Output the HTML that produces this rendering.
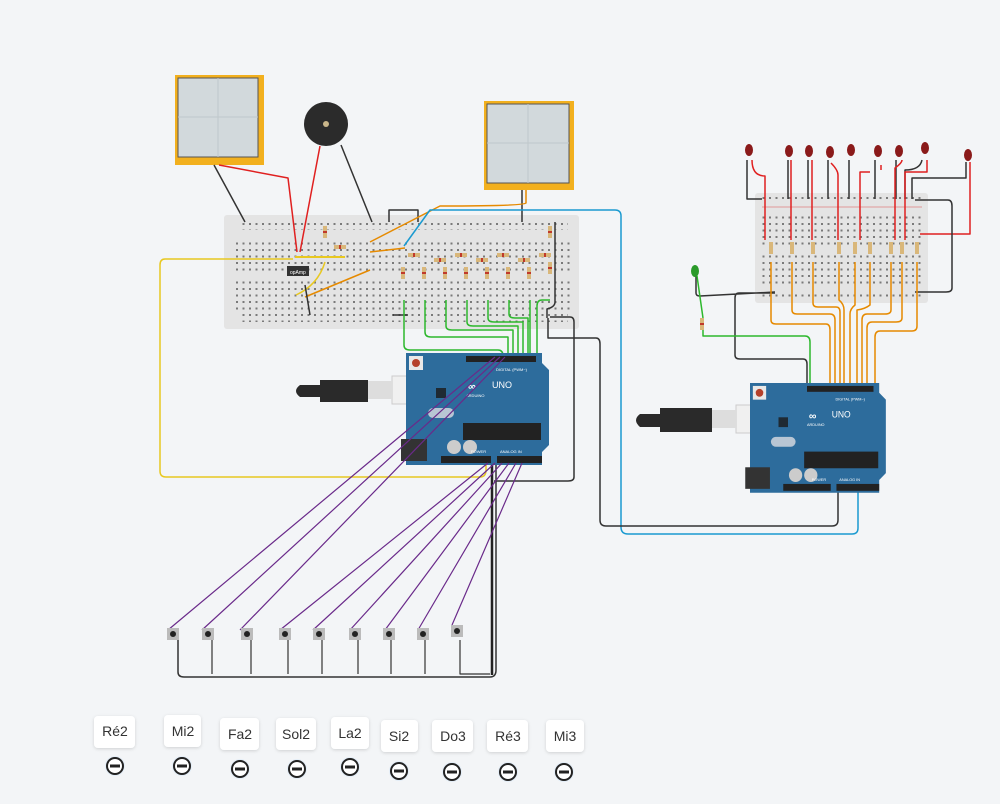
<!DOCTYPE html>
<html><head><meta charset="utf-8"><style>
html,body{margin:0;padding:0;background:#f3f5f7;}
svg{display:block;font-family:"Liberation Sans",sans-serif;}
</style></head><body>
<svg width="1000" height="804" viewBox="0 0 1000 804" xmlns="http://www.w3.org/2000/svg">
<defs>
<pattern id="holes" width="6.5" height="6.5" patternUnits="userSpaceOnUse"><rect x="2" y="2" width="2" height="2" fill="#7a7a7a"/></pattern>
<filter id="sh" x="-20%" y="-20%" width="140%" height="140%"><feDropShadow dx="0" dy="1" stdDeviation="1.5" flood-color="#000" flood-opacity="0.15"/></filter>
<g id="ard">
 <path d="M0 0 H136 V10 L143 17 V92 L136 99 V112 H0 Z" fill="#2d6c9c"/>
 <rect x="3" y="3" width="14" height="14" fill="#e8e8e8"/><circle cx="10" cy="10" r="4" fill="#b5402a"/>
 <rect x="60" y="3" width="70" height="6" fill="#222"/>
 <rect x="57" y="70" width="78" height="17" fill="#222"/>
 <rect x="35" y="103" width="50" height="7" fill="#222"/>
 <rect x="91" y="103" width="45" height="7" fill="#222"/>
 <rect x="-5" y="86" width="26" height="22" fill="#333"/>
 <ellipse cx="48" cy="94" rx="7" ry="7" fill="#ccc"/><ellipse cx="64" cy="94" rx="7" ry="7" fill="#ccc"/>
 <rect x="22" y="55" width="26" height="10" rx="5" fill="#b8c6d4"/>
 <rect x="30" y="35" width="10" height="10" fill="#1f2a33"/>
 <text x="62" y="37" font-size="11" fill="#fff" font-weight="bold">∞</text>
 <text x="86" y="35" font-size="9" fill="#fff">UNO</text>
 <text x="60" y="44" font-size="4" fill="#fff">ARDUINO</text>
 <text x="90" y="18" font-size="4" fill="#fff">DIGITAL (PWM~)</text>
 <text x="94" y="100" font-size="4" fill="#fff">ANALOG IN</text>
 <text x="65" y="100" font-size="4" fill="#fff">POWER</text>
</g>
</defs>

<!-- Oscilloscopes -->
<rect x="175" y="75" width="89" height="90" fill="#f2b01e"/>
<rect x="178" y="78" width="80" height="79" fill="#d2d9dc" stroke="#555" stroke-width="1"/>
<line x1="218" y1="78" x2="218" y2="157" stroke="#bfc7cb"/><line x1="178" y1="117" x2="258" y2="117" stroke="#bfc7cb"/>
<rect x="484" y="101" width="90" height="89" fill="#f2b01e"/>
<rect x="487" y="104" width="82" height="79" fill="#d2d9dc" stroke="#555" stroke-width="1"/>
<line x1="528" y1="104" x2="528" y2="183" stroke="#bfc7cb"/><line x1="487" y1="143" x2="569" y2="143" stroke="#bfc7cb"/>
<circle cx="326" cy="124" r="22" fill="#2b2b2b"/><circle cx="326" cy="124" r="3" fill="#c9b68a"/>

<!-- Breadboard 1 -->
<rect x="224" y="215" width="355" height="114" rx="3" fill="#e4e4e4"/>
<rect x="238" y="222" width="330" height="8" fill="url(#holes)"/>
<rect x="232" y="240" width="340" height="34" fill="url(#holes)"/>
<rect x="232" y="278" width="340" height="34" fill="url(#holes)"/>
<rect x="238" y="314" width="330" height="8" fill="url(#holes)"/>
<rect x="287" y="266" width="22" height="10" fill="#333"/><text x="290" y="274" font-size="5" fill="#fff">opAmp</text>
<!-- Breadboard 2 -->
<rect x="755" y="193" width="173" height="110" rx="3" fill="#e4e4e4"/>
<rect x="762" y="197" width="160" height="6" fill="url(#holes)"/>
<rect x="760" y="212" width="162" height="34" fill="url(#holes)"/>
<rect x="760" y="254" width="162" height="34" fill="url(#holes)"/>
<rect x="762" y="291" width="160" height="6" fill="url(#holes)"/>
<line x1="762" y1="207" x2="922" y2="207" stroke="#e08080" stroke-width="0.7"/>

<g fill="#d9b77a">
<rect x="323" y="226" width="4" height="12"/><rect x="334" y="245" width="12" height="4"/>
<rect x="548" y="226" width="4" height="12"/><rect x="548" y="262" width="4" height="12"/>
<rect x="408" y="253" width="12" height="4"/><rect x="434" y="258" width="12" height="4"/><rect x="455" y="253" width="12" height="4"/><rect x="476" y="258" width="12" height="4"/><rect x="497" y="253" width="12" height="4"/><rect x="518" y="258" width="12" height="4"/><rect x="539" y="253" width="12" height="4"/>
<rect x="401" y="267" width="4" height="12"/><rect x="422" y="267" width="4" height="12"/><rect x="443" y="267" width="4" height="12"/><rect x="464" y="267" width="4" height="12"/><rect x="485" y="267" width="4" height="12"/><rect x="506" y="267" width="4" height="12"/><rect x="527" y="267" width="4" height="12"/>
<rect x="769" y="242" width="4" height="12"/><rect x="790" y="242" width="4" height="12"/><rect x="811" y="242" width="4" height="12"/><rect x="837" y="242" width="4" height="12"/><rect x="853" y="242" width="4" height="12"/><rect x="868" y="242" width="4" height="12"/><rect x="889" y="242" width="4" height="12"/><rect x="900" y="242" width="4" height="12"/><rect x="915" y="242" width="4" height="12"/>
<rect x="700" y="318" width="4" height="12"/>
</g>
<g fill="#c0392b">
<rect x="323" y="231" width="4" height="2"/><rect x="339" y="245" width="2" height="4"/><rect x="548" y="231" width="4" height="2"/><rect x="548" y="267" width="4" height="2"/>
<rect x="413" y="253" width="2" height="4"/><rect x="439" y="258" width="2" height="4"/><rect x="460" y="253" width="2" height="4"/><rect x="481" y="258" width="2" height="4"/><rect x="502" y="253" width="2" height="4"/><rect x="523" y="258" width="2" height="4"/><rect x="544" y="253" width="2" height="4"/>
<rect x="401" y="272" width="4" height="2"/><rect x="422" y="272" width="4" height="2"/><rect x="443" y="272" width="4" height="2"/><rect x="464" y="272" width="4" height="2"/><rect x="485" y="272" width="4" height="2"/><rect x="506" y="272" width="4" height="2"/><rect x="527" y="272" width="4" height="2"/>
<rect x="700" y="323" width="4" height="2"/>
</g>

<g fill="none" stroke-width="1.5" stroke-linejoin="round">
<path d="M214 165 L245 222" stroke="#333"/>
<path d="M219 165 L288 178 L297 252 M320 146 L300 252" stroke="#e02020"/>
<path d="M341 145 L372 222" stroke="#333"/>
<path d="M389 222 V210 H418 V222" stroke="#333"/>
<path d="M522 190 V222" stroke="#333"/>
<path d="M526 190 V203 Q524 206 440 206 L370 242 M370 252 L405 248 M370 270 L305 297" stroke="#e68a00"/>
<path d="M404 246 L430 210 H615 Q621 210 621 216 V527 Q621 534 628 534 H852 Q858 534 858 528 V492" stroke="#1a9ad0"/>
<path d="M295 257 H345" stroke="#e8c820" stroke-width="2"/>
<path d="M293 259 H165 Q160 259 160 265 V471 Q160 477 166 477 H480 Q486 477 486 470 V462" stroke="#e8c820"/>
<path d="M325 262 Q318 285 296 295" stroke="#e8c820"/>
<path d="M305 285 L310 315" stroke="#333"/>
<path d="M393 315 H408" stroke="#333"/>
<path d="M555 222 V302 Q555 307 547 309 V318 M550 317 H570 Q574 317 574 322 V477 Q574 481 568 481 H494" stroke="#333"/>
<path d="M548 318 V338 H596 Q600 338 600 344 V520 Q600 526 606 526 H832 Q838 526 838 520 V492" stroke="#333"/>
<path d="M404 300 V345 Q404 350 410 350 H498 Q503 350 503 356" stroke="#2db82d"/>
<path d="M425 300 V332 Q425 337 431 337 H508 V356" stroke="#2db82d"/>
<path d="M446 300 V326 Q446 330 452 330 H513 V356" stroke="#2db82d"/>
<path d="M467 300 V322 Q467 326 473 326 H518 V356" stroke="#2db82d"/>
<path d="M488 300 V318 Q488 322 494 322 H523 V356" stroke="#2db82d"/>
<path d="M509 300 V314 Q509 318 515 318 H528 V356" stroke="#2db82d"/>
<path d="M530 300 V356" stroke="#2db82d"/>
<path d="M550 300 H542 Q537 300 537 306 V356" stroke="#2db82d"/>
<path d="M178 640 V672 Q178 677 184 677 H490 Q496 677 496 670 V462" stroke="#333" stroke-width="1.5"/>
<path d="M212 640 V674 M251 640 V674 M288 640 V674 M322 640 V674 M358 640 V674 M391 640 V674 M425 640 V674 M460 640 V674 H490" stroke="#333" stroke-width="1.2"/>
<path d="M492 462 V675" stroke="#222" stroke-width="2.5"/>
<path d="M747 160 V199 H762 M788 160 V199 M808 160 V199 M828 160 V199 M849 160 V199 M875 160 V199 M896 160 V199 M922 160 Q920 170 905 170 V199 M966 162 V178 H912 V199" stroke="#333"/>
<path d="M752 160 Q752 176 765 176 V240 M791 160 V240 M812 160 V240 M831 163 Q838 170 838 175 V240 M870 172 H860 V240 M881 165 V170 M902 160 Q902 163 895 168 V240 M927 160 V172 H905 V240 M970 162 V234 H920" stroke="#e02020"/>
<path d="M915 200 H948 Q952 200 952 206 V288 Q952 292 946 292 H915" stroke="#333"/>
<path d="M696 276 V293 Q696 296 700 296 L775 292 M775 293 H739 Q735 293 735 298 V355 Q735 359 740 359 H803 Q807 359 807 364 V385" stroke="#333"/>
<path d="M697 276 L703 318 M703 330 V336 H805 Q810 336 810 342 V385" stroke="#2db82d"/>
<g stroke="#e68a00">
<path d="M771 262 V320 Q771 324 776 324 H826 Q830 324 830 330 V385"/>
<path d="M792 262 V310 Q792 314 797 314 H830 Q835 314 835 320 V385"/>
<path d="M813 262 V303 Q813 307 818 307 H836 Q840 307 840 312 V385"/>
<path d="M839 262 V300 Q844 304 844 310 V385"/>
<path d="M855 262 V305 Q850 309 850 314 V385"/>
<path d="M870 262 V305 Q865 309 857 310 V385"/>
<path d="M891 262 V310 Q891 314 885 314 H867 Q862 314 862 320 V385"/>
<path d="M902 262 V318 Q902 322 896 322 H872 Q867 322 867 328 V385"/>
<path d="M917 262 V326 Q917 331 912 331 H880 Q875 331 875 337 V385"/>
</g>
</g>

<g fill="#8a1a1a">
<ellipse cx="749" cy="150" rx="4" ry="6"/><ellipse cx="789" cy="151" rx="4" ry="6"/><ellipse cx="809" cy="151" rx="4" ry="6"/><ellipse cx="830" cy="152" rx="4" ry="6"/><ellipse cx="851" cy="150" rx="4" ry="6"/><ellipse cx="878" cy="151" rx="4" ry="6"/><ellipse cx="899" cy="151" rx="4" ry="6"/><ellipse cx="925" cy="148" rx="4" ry="6"/><ellipse cx="968" cy="155" rx="4" ry="6"/>
</g>
<ellipse cx="695" cy="271" rx="4" ry="6" fill="#2a9a2a"/>

<rect x="392" y="376" width="26" height="28" fill="#f0f0f0" stroke="#ccc"/>
<rect x="368" y="381" width="24" height="18" fill="#ddd"/>
<path d="M300 385 H320 V380 H368 V402 H320 V397 H300 Q292 391 300 385Z" fill="#2a2a2a"/>
<use href="#ard" x="406" y="353"/>
<rect x="736" y="405" width="26" height="28" fill="#f0f0f0" stroke="#ccc"/>
<rect x="712" y="410" width="24" height="18" fill="#ddd"/>
<path d="M640 414 H660 V408 H712 V432 H660 V427 H640 Q632 420 640 414Z" fill="#2a2a2a"/>
<g transform="translate(750,383) scale(0.95,0.98)"><use href="#ard"/></g>

<!-- purple wires over board -->
<g stroke="#6a2a8a" stroke-width="1.2" fill="none">
<path d="M168 630 L495 357 M202 630 L500 357 M240 630 L505 357"/>
<path d="M280 630 L488 463 M313 630 L495 463 M350 630 L502 463 M385 630 L509 463 M418 630 L516 463 M452 625 L522 463"/>
</g>

<g fill="#bbb">
<rect x="167" y="628" width="12" height="12"/><rect x="202" y="628" width="12" height="12"/><rect x="241" y="628" width="12" height="12"/><rect x="279" y="628" width="12" height="12"/><rect x="313" y="628" width="12" height="12"/><rect x="349" y="628" width="12" height="12"/><rect x="383" y="628" width="12" height="12"/><rect x="417" y="628" width="12" height="12"/><rect x="451" y="625" width="12" height="12"/>
</g>
<g fill="#222">
<circle cx="173" cy="634" r="3"/><circle cx="208" cy="634" r="3"/><circle cx="247" cy="634" r="3"/><circle cx="285" cy="634" r="3"/><circle cx="319" cy="634" r="3"/><circle cx="355" cy="634" r="3"/><circle cx="389" cy="634" r="3"/><circle cx="423" cy="634" r="3"/><circle cx="457" cy="631" r="3"/>
</g>

<g font-size="14" fill="#333" text-anchor="middle">
<g><rect x="94" y="716" width="41" height="32" rx="4" fill="#fff" filter="url(#sh)"/><text x="115" y="736">Ré2</text><circle cx="115" cy="766" r="10" fill="#e3edf7"/><circle cx="115" cy="766" r="8" fill="#fff" stroke="#222" stroke-width="2"/><rect x="110" y="764.5" width="10" height="3" fill="#222"/></g>
<g><rect x="164" y="715" width="37" height="32" rx="4" fill="#fff" filter="url(#sh)"/><text x="183" y="736">Mi2</text><circle cx="182" cy="766" r="10" fill="#e3edf7"/><circle cx="182" cy="766" r="8" fill="#fff" stroke="#222" stroke-width="2"/><rect x="177" y="764.5" width="10" height="3" fill="#222"/></g>
<g><rect x="220" y="718" width="39" height="32" rx="4" fill="#fff" filter="url(#sh)"/><text x="240" y="739">Fa2</text><circle cx="240" cy="769" r="10" fill="#e3edf7"/><circle cx="240" cy="769" r="8" fill="#fff" stroke="#222" stroke-width="2"/><rect x="235" y="767.5" width="10" height="3" fill="#222"/></g>
<g><rect x="276" y="718" width="40" height="32" rx="4" fill="#fff" filter="url(#sh)"/><text x="296" y="739">Sol2</text><circle cx="297" cy="769" r="10" fill="#e3edf7"/><circle cx="297" cy="769" r="8" fill="#fff" stroke="#222" stroke-width="2"/><rect x="292" y="767.5" width="10" height="3" fill="#222"/></g>
<g><rect x="331" y="717" width="38" height="32" rx="4" fill="#fff" filter="url(#sh)"/><text x="350" y="738">La2</text><circle cx="350" cy="767" r="10" fill="#e3edf7"/><circle cx="350" cy="767" r="8" fill="#fff" stroke="#222" stroke-width="2"/><rect x="345" y="765.5" width="10" height="3" fill="#222"/></g>
<g><rect x="381" y="720" width="37" height="32" rx="4" fill="#fff" filter="url(#sh)"/><text x="399" y="741">Si2</text><circle cx="399" cy="771" r="10" fill="#e3edf7"/><circle cx="399" cy="771" r="8" fill="#fff" stroke="#222" stroke-width="2"/><rect x="394" y="769.5" width="10" height="3" fill="#222"/></g>
<g><rect x="432" y="720" width="41" height="32" rx="4" fill="#fff" filter="url(#sh)"/><text x="453" y="741">Do3</text><circle cx="452" cy="772" r="10" fill="#e3edf7"/><circle cx="452" cy="772" r="8" fill="#fff" stroke="#222" stroke-width="2"/><rect x="447" y="770.5" width="10" height="3" fill="#222"/></g>
<g><rect x="487" y="720" width="41" height="32" rx="4" fill="#fff" filter="url(#sh)"/><text x="508" y="741">Ré3</text><circle cx="508" cy="772" r="10" fill="#e3edf7"/><circle cx="508" cy="772" r="8" fill="#fff" stroke="#222" stroke-width="2"/><rect x="503" y="770.5" width="10" height="3" fill="#222"/></g>
<g><rect x="546" y="720" width="38" height="32" rx="4" fill="#fff" filter="url(#sh)"/><text x="565" y="741">Mi3</text><circle cx="564" cy="772" r="10" fill="#e3edf7"/><circle cx="564" cy="772" r="8" fill="#fff" stroke="#222" stroke-width="2"/><rect x="559" y="770.5" width="10" height="3" fill="#222"/></g>
</g>
</svg>
</body></html>
